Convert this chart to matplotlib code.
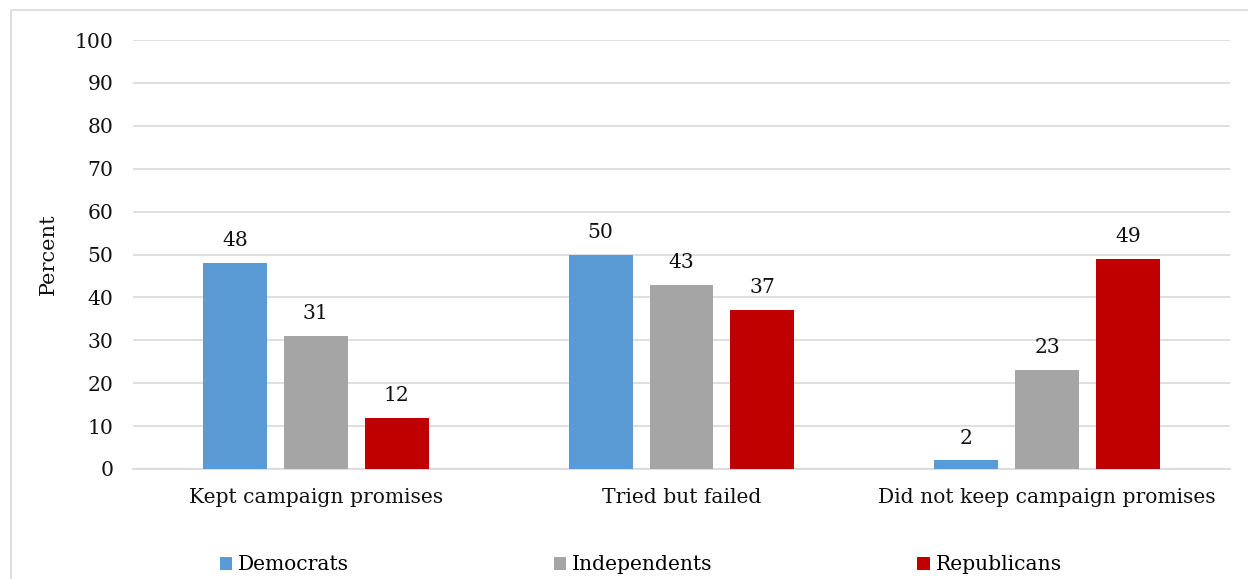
import matplotlib
matplotlib.use("Agg")
import matplotlib.pyplot as plt
from matplotlib.lines import Line2D
import numpy as np

categories = ["Kept campaign promises", "Tried but failed", "Did not keep campaign promises"]
series = ["Democrats", "Independents", "Republicans"]
democrats = [48, 50, 2]
independents = [31, 43, 23]
republicans = [12, 37, 49]
colors = ["#5b9bd5", "#a5a5a5", "#c00000"]

plt.rcParams["font.family"] = ["DejaVu Serif"]

W, H = 1248, 579
fig = plt.figure(figsize=(W / 100, H / 100), dpi=100)
ax = fig.add_axes([133 / W, 1 - 469 / H, (1230 - 133) / W, (469 - 40) / H])

# outer frame: only top and left edges show in the original
fig.lines.append(Line2D([11 / W, 11 / W, 1.0], [0.0, 1 - 10 / H, 1 - 10 / H],
                        transform=fig.transFigure, color="#d9d9d9", linewidth=1.2))

x = np.arange(len(categories))
step = 0.2215
width = 0.175
for i, (name, vals) in enumerate(zip(series, [democrats, independents, republicans])):
    bars = ax.bar(x + (i - 1) * step, vals, width, color=colors[i], label=name, zorder=3)
    for b, v in zip(bars, vals):
        ax.text(b.get_x() + b.get_width() / 2, v + 3, str(v), ha="center", va="bottom",
                fontsize=14.6, color="#111111")

ax.set_xlim(-0.5, 2.5)
ax.set_ylim(0, 100)
ax.set_yticks(range(0, 101, 10))
ax.set_xticks(x)
ax.set_xticklabels(categories, fontsize=14.6, color="#111111")
ax.tick_params(axis="y", labelsize=14.6, labelcolor="#111111", length=0, pad=14)
ax.tick_params(axis="x", length=0, pad=14)
ax.grid(axis="y", color="#d9d9d9", linewidth=1.2, zorder=0)
for s in ["top", "right", "left"]:
    ax.spines[s].set_visible(False)
ax.spines["bottom"].set_color("#d9d9d9")
ax.spines["bottom"].set_linewidth(1.2)
ax.set_ylabel("Percent", fontsize=15, color="#111111", labelpad=12)

fig.legend(loc="center", bbox_to_anchor=(0.5135, 1 - 565 / H), ncol=3, frameon=False,
           fontsize=14.6, handlelength=0.6, handleheight=0.6, handletextpad=0.3,
           columnspacing=10.1)

fig.savefig("out.png", dpi=100)
